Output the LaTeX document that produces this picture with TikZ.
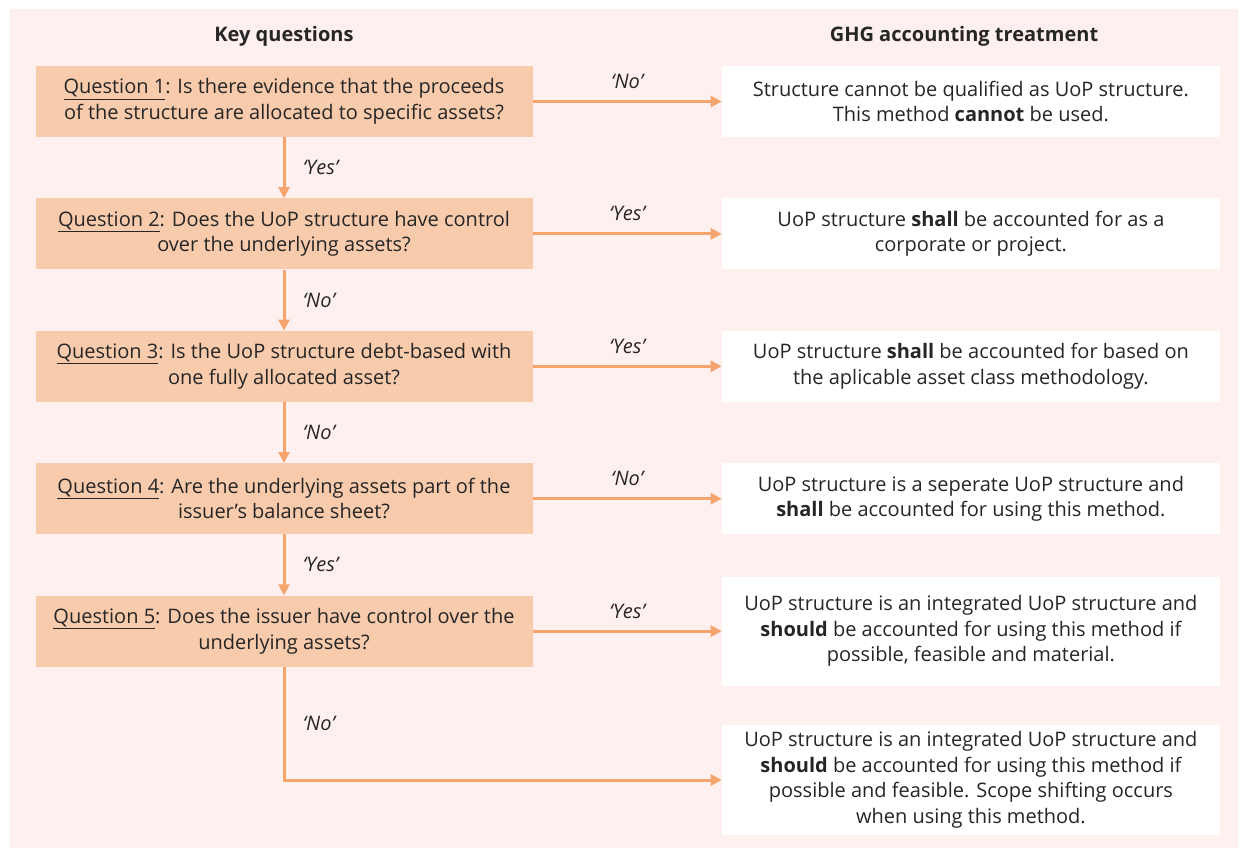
\documentclass[tikz,border=0pt]{standalone}
\usepackage{fontspec}
\setmainfont{Open Sans}
\usetikzlibrary{arrows.meta, positioning}

\definecolor{bgpink}{HTML}{FEF0EF}
\definecolor{qpeach}{HTML}{F8CBAD}
\definecolor{floworange}{HTML}{F4A46C}
\definecolor{txtgray}{HTML}{262626}

\begin{document}
\begin{tikzpicture}[
        x=1pt, y=-1pt,
        >={Triangle[length=11pt,width=11pt]},
        node distance=61pt,
        question/.style={rectangle, fill=qpeach, minimum width=497pt, minimum height=71pt, inner sep=0pt, align=center, text=txtgray, font=\fontsize{20}{25.5}\selectfont},
        treatment/.style={rectangle, fill=white, minimum width=498pt, minimum height=71pt, inner sep=0pt, align=center, text=txtgray, font=\fontsize{20}{25.5}\selectfont},
        heading/.style={text=txtgray, font=\bfseries\fontsize{20}{24}\selectfont},
        answer/.style={text=txtgray, font=\itshape\fontsize{20}{24}\selectfont},
        flow/.style={->, draw=floworange, line width=3pt}
    ]

    \useasboundingbox (0,0) rectangle (1248,857);
    \fill [bgpink] (10,9) rectangle (1238,848);

    \node (keyq) [heading] at (284,36) {Key questions};
    \node (ghg) [heading] at (964,36) {GHG accounting treatment};

    % questions
    \node (q1) [question] at (284,101.5) {\underline{Question 1}: Is there evidence that the proceeds\\of the structure are allocated to specific assets?};
    \node (q2) [question, below=of q1] {\underline{Question 2}: Does the UoP structure have control\\over the underlying assets?};
    \node (q3) [question, below=of q2] {\underline{Question 3}: Is the UoP structure debt-based with\\one fully allocated asset?};
    \node (q4) [question, below=of q3] {\underline{Question 4}: Are the underlying assets part of the\\issuer’s balance sheet?};
    \node (q5) [question, below=of q4] {\underline{Question 5}: Does the issuer have control over the\\underlying assets?};

    % treatments
    \node (r1) [treatment, right=189pt of q1] {Structure cannot be qualified as UoP structure.\\This method \textbf{cannot} be used.};
    \node (r2) [treatment, right=189pt of q2] {UoP structure \textbf{shall} be accounted for as a\\corporate or project.};
    \node (r3) [treatment, right=189pt of q3] {UoP structure \textbf{shall} be accounted for based on\\the aplicable asset class methodology.};
    \node (r4) [treatment, right=189pt of q4] {UoP structure is a seperate UoP structure and\\\textbf{shall} be accounted for using this method.};
    \node (r5) [treatment, minimum height=109pt, right=189pt of q5] {UoP structure is an integrated UoP structure and\\\textbf{should} be accounted for using this method if\\possible, feasible and material.};
    \node (r6) [treatment, minimum height=110pt, below=39pt of r5] {UoP structure is an integrated UoP structure and\\\textbf{should} be accounted for using this method if\\possible and feasible. Scope shifting occurs\\when using this method.};

    \draw [flow] (q1) -- node [answer, above=8pt] {‘No’} (r1);
    \draw [flow] (q1) -- node [answer, right=14pt] {‘Yes’} (q2);
    \draw [flow] (q2) -- node [answer, above=8pt] {‘Yes’} (r2);
    \draw [flow] (q2) -- node [answer, right=14pt] {‘No’} (q3);
    \draw [flow] (q3) -- node [answer, above=8pt] {‘Yes’} (r3);
    \draw [flow] (q3) -- node [answer, right=14pt] {‘No’} (q4);
    \draw [flow] (q4) -- node [answer, above=8pt] {‘No’} (r4);
    \draw [flow] (q4) -- node [answer, right=14pt] {‘Yes’} (q5);
    \draw [flow] (q5) -- node [answer, above=8pt] {‘Yes’} (r5);
    \draw [flow] (q5.south) |- node [answer, right=14pt, pos=0.25] {‘No’} (r6.west);

\end{tikzpicture}
\end{document}
